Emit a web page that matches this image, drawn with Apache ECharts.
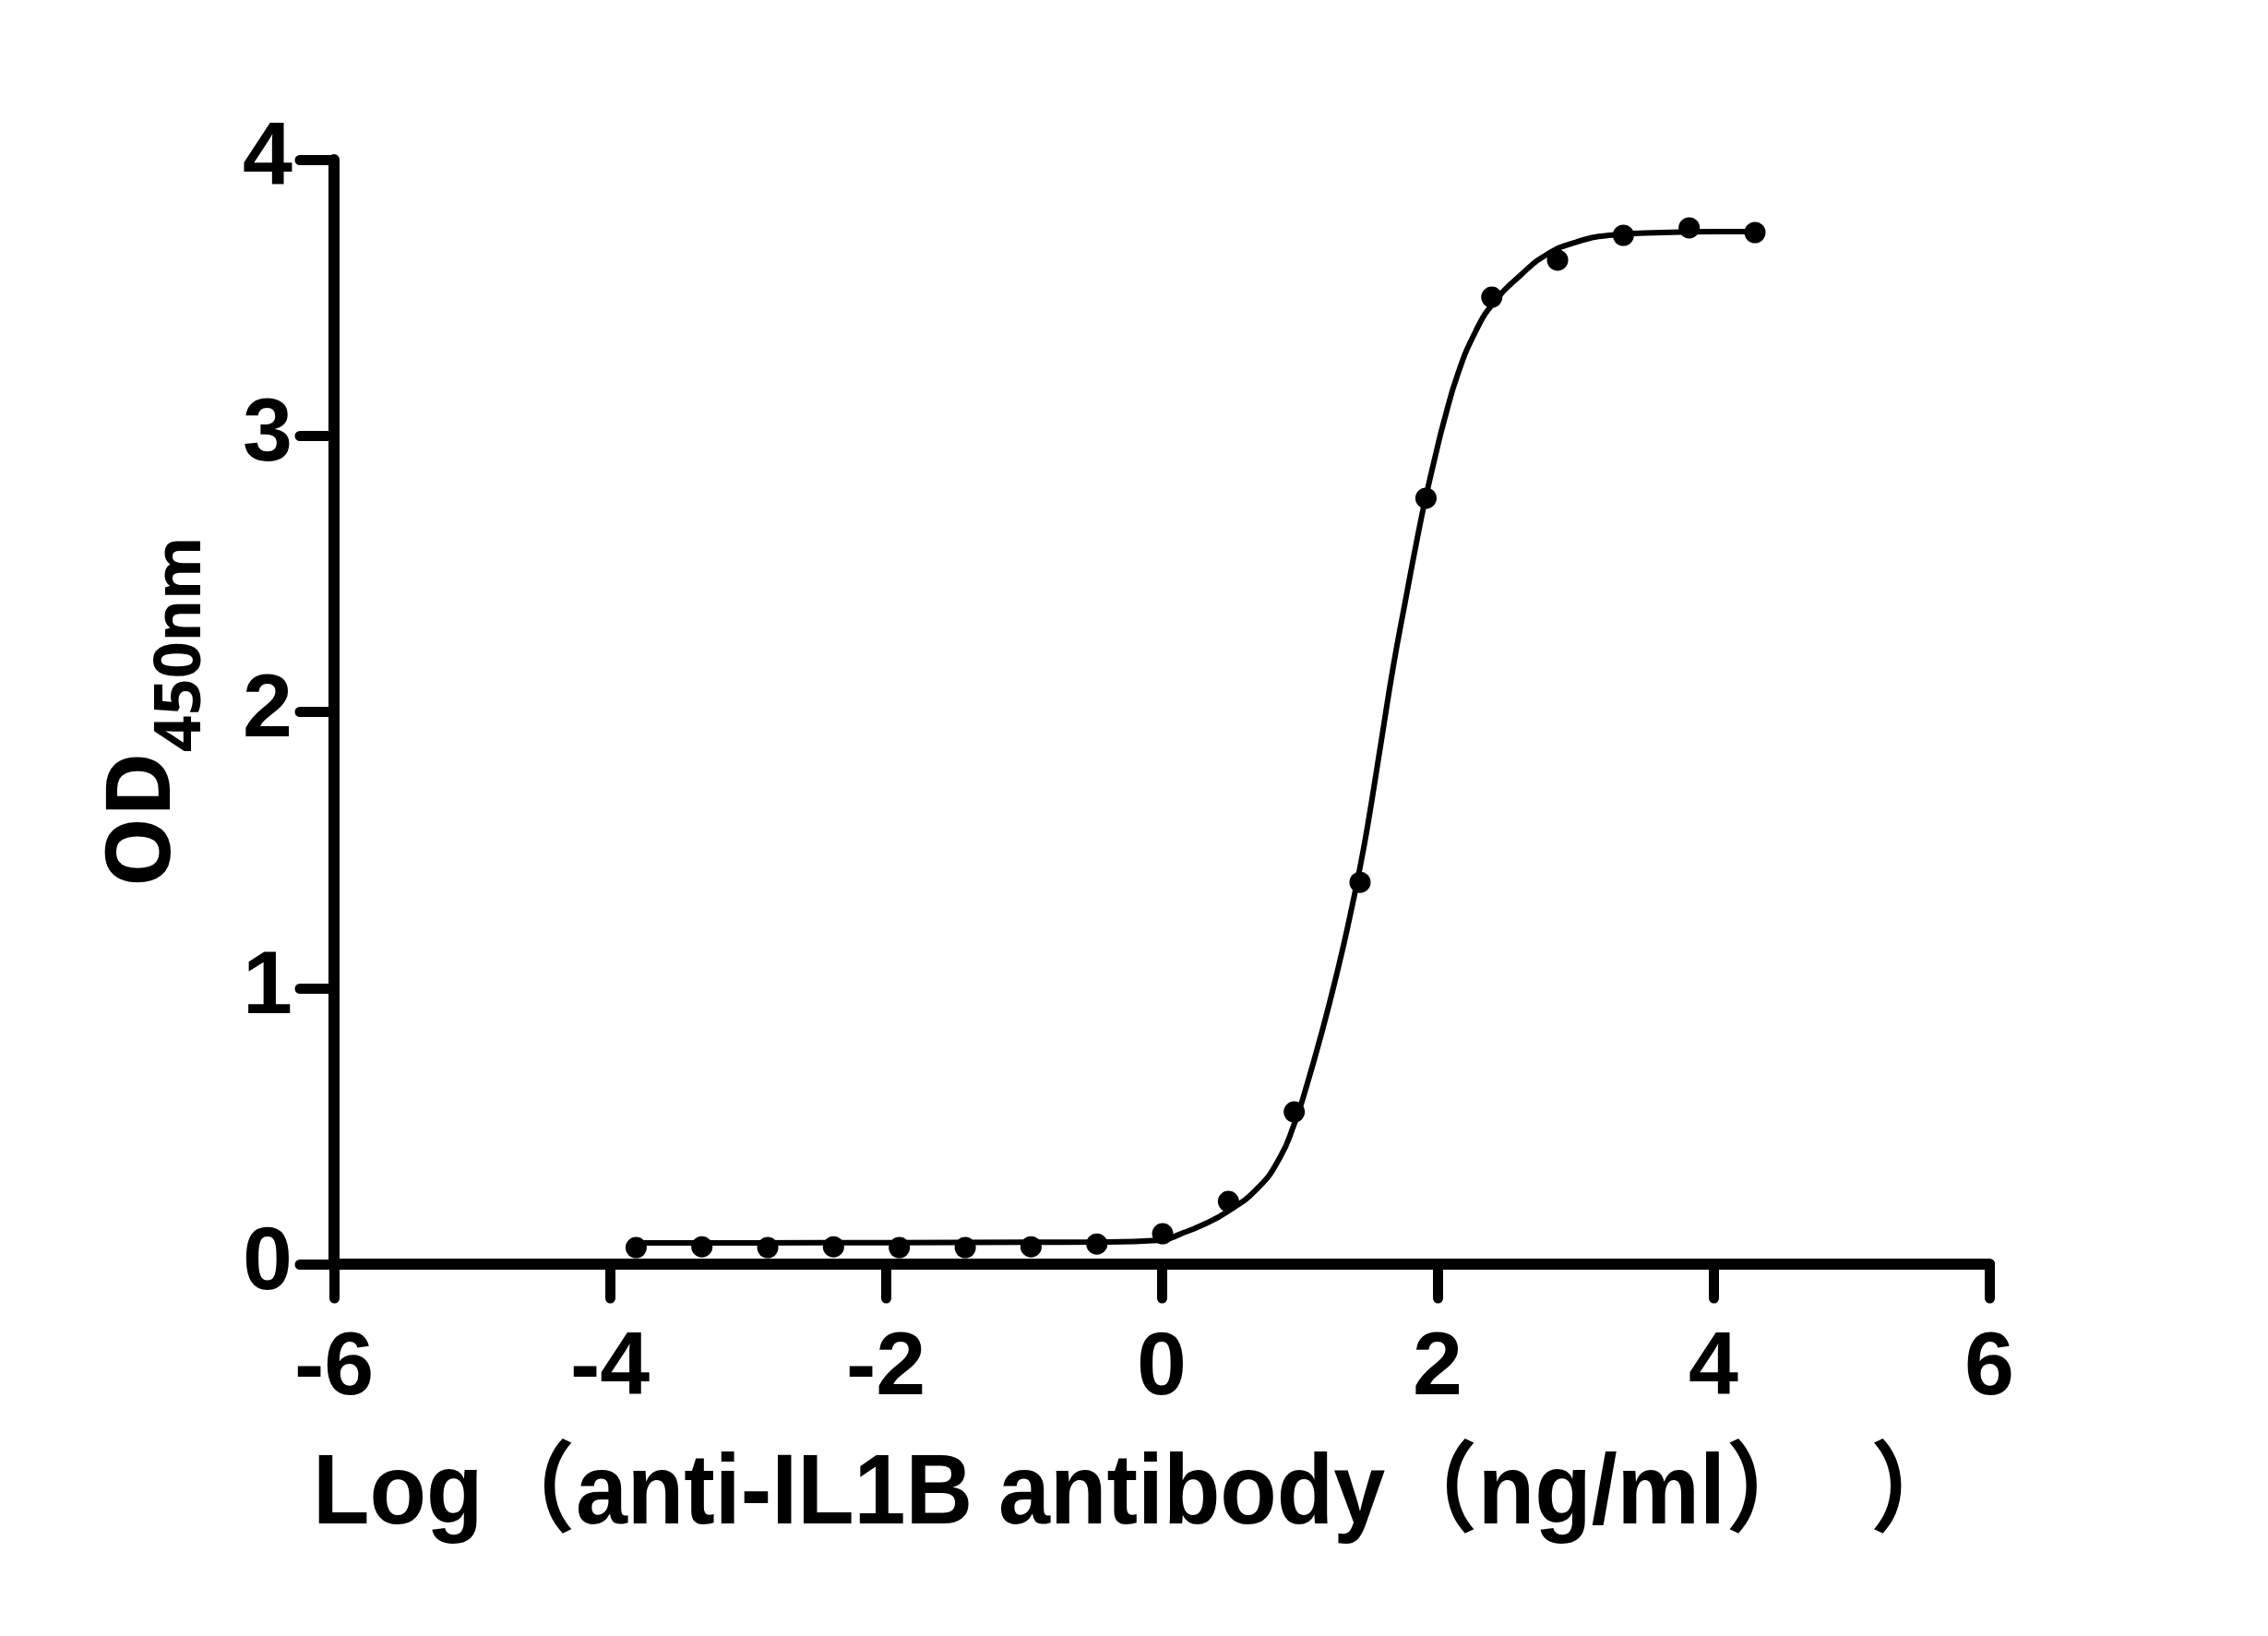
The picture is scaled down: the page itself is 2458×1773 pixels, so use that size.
<!DOCTYPE html>
<html><head><meta charset="utf-8">
<script src="https://cdn.jsdelivr.net/npm/echarts@6/dist/echarts.min.js"></script>
<style>html,body{margin:0;padding:0;background:#fff}#c{width:2458px;height:1773px}</style>
</head><body><div id="c"></div>
<script>
// measured points: log10 concentration (ng/ml) vs OD450
const logConc = [-3.810,-3.333,-2.856,-2.379,-1.902,-1.424,-0.947,-0.470,0.007,0.484,0.961,1.438,1.916,2.393,2.870,3.347,3.824,4.301];
const od450   = [0.060,0.063,0.060,0.063,0.060,0.060,0.063,0.073,0.110,0.227,0.551,1.383,2.774,3.502,3.636,3.726,3.753,3.736];
// fitted curve
const fitX = [-3.81,-3.0,-2.0,-1.0,-0.47,0.0,0.14,0.30,0.475,0.696,0.856,0.963,1.03,1.164,1.278,1.365,1.431,1.492,1.592,1.679,1.766,1.86,1.913,1.993,2.047,2.147,2.274,2.401,2.609,2.788,2.989,3.244,3.632,4.013,4.30];
const fitY = [0.077,0.077,0.078,0.079,0.080,0.087,0.110,0.143,0.190,0.275,0.385,0.51,0.61,0.845,1.069,1.26,1.42,1.585,1.895,2.165,2.400,2.647,2.774,2.946,3.054,3.224,3.376,3.478,3.585,3.655,3.699,3.726,3.736,3.739,3.739];
const xTitle = 'Log（anti-IL1B antibody（ng/ml）  ）';
const yTitleMain = 'OD';
const yTitleSub = '450nm';

const pts = logConc.map((x,i)=>[x, od450[i]]);
const fit = fitX.map((x,i)=>[x, fitY[i]]);

const chart = echarts.init(document.getElementById('c'), null, {renderer:'canvas'});
const axisStyle = {color:'#000', width:12, cap:'round'};
chart.setOption({
  animation:false,
  backgroundColor:'#fff',
  grid:{left:362, right:302, top:173, bottom:403, containLabel:false},
  graphic:[{
    type:'text', x:1233, y:1621, scaleX:0.94, scaleY:1, silent:true,
    style:{text:xTitle, fill:'#000', fontFamily:'"Liberation Sans","Noto Sans CJK SC"', fontWeight:'bold', fontSize:107, align:'center', verticalAlign:'middle'}
  }],
  xAxis:{
    type:'value', min:-6, max:6, interval:2,
    axisLine:{show:true, onZero:false, lineStyle:axisStyle},
    axisTick:{show:true, length:37, lineStyle:{color:'#000', width:11, cap:'round'}},
    splitLine:{show:false},
    axisLabel:{color:'#000', fontFamily:'Liberation Sans', fontWeight:'bold', fontSize:97, margin:66}
  },
  yAxis:{
    type:'value', min:0, max:4, interval:1,
    axisLine:{show:true, onZero:false, lineStyle:axisStyle},
    axisTick:{show:true, length:37, lineStyle:{color:'#000', width:11, cap:'round'}},
    splitLine:{show:false},
    axisLabel:{color:'#000', fontFamily:'Liberation Sans', fontWeight:'bold', fontSize:97, margin:45, padding:[14,0,0,0]},
    name:'{m|'+yTitleMain+'}{s|'+yTitleSub+'}', nameLocation:'middle', nameRotate:90, nameGap:143,
    nameTextStyle:{
      rich:{
        m:{color:'#000', fontFamily:'Noto Sans', fontWeight:'bold', fontSize:96, lineHeight:110, verticalAlign:'top'},
        s:{color:'#000', fontFamily:'Noto Sans', fontWeight:'bold', fontSize:70, lineHeight:70, verticalAlign:'top', padding:[53,0,0,0]}
      }
    }
  },
  series:[
    {type:'line', data:fit, showSymbol:false, smooth:0.5,
     lineStyle:{color:'#000', width:6}, z:2, silent:true},
    {type:'scatter', data:pts, symbol:'circle', symbolSize:23,
     itemStyle:{color:'#000', opacity:1}, z:3, silent:true}
  ]
});
</script></body></html>
